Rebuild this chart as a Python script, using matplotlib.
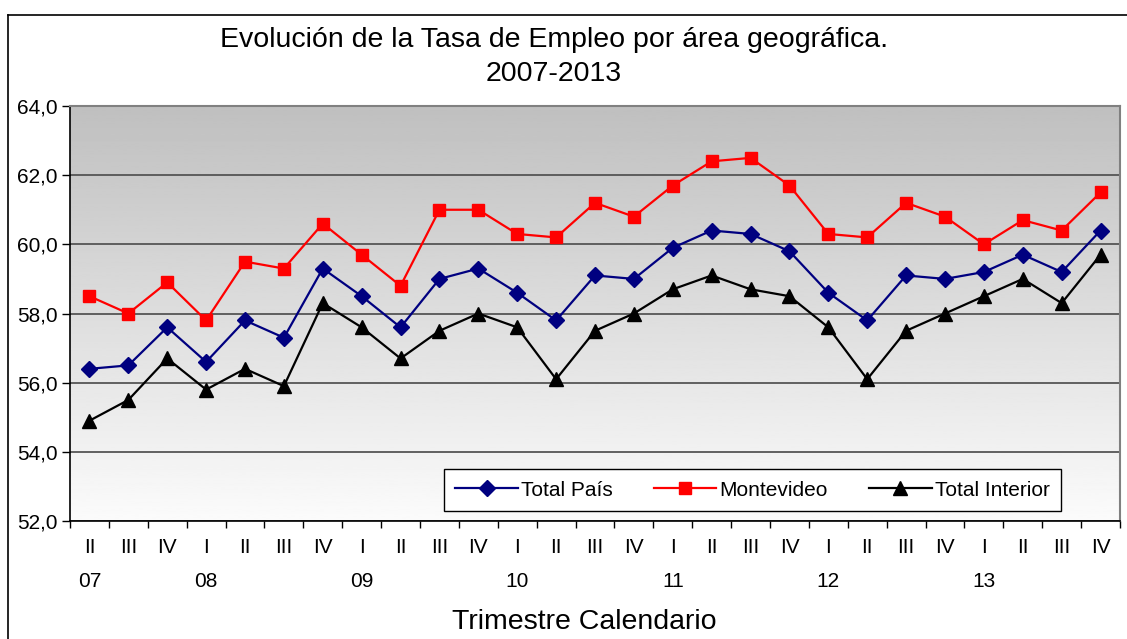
import numpy as np
import matplotlib
matplotlib.use("Agg")
import matplotlib.pyplot as plt
from matplotlib.lines import Line2D
from matplotlib.ticker import FixedLocator, NullFormatter, FuncFormatter

plt.rcParams['font.family'] = ['Liberation Sans', 'DejaVu Sans']

# quarters and years
quarters = ['II', 'III', 'IV',
            'I', 'II', 'III', 'IV',
            'I', 'II', 'III', 'IV',
            'I', 'II', 'III', 'IV',
            'I', 'II', 'III', 'IV',
            'I', 'II', 'III', 'IV',
            'I', 'II', 'III', 'IV']
years = ['07', '08', '09', '10', '11', '12', '13']
year_pos = [0, 3, 7, 11, 15, 19, 23]

total_pais = [56.4, 56.5, 57.6, 56.6, 57.8, 57.3, 59.3, 58.5, 57.6,
              59.0, 59.3, 58.6, 57.8, 59.1, 59.0, 59.9, 60.4, 60.3,
              59.8, 58.6, 57.8, 59.1, 59.0, 59.2, 59.7, 59.2, 60.4]
montevideo = [58.5, 58.0, 58.9, 57.8, 59.5, 59.3, 60.6, 59.7, 58.8,
              61.0, 61.0, 60.3, 60.2, 61.2, 60.8, 61.7, 62.4, 62.5,
              61.7, 60.3, 60.2, 61.2, 60.8, 60.0, 60.7, 60.4, 61.5]
total_interior = [54.9, 55.5, 56.7, 55.8, 56.4, 55.9, 58.3, 57.6, 56.7,
                  57.5, 58.0, 57.6, 56.1, 57.5, 58.0, 58.7, 59.1, 58.7,
                  58.5, 57.6, 56.1, 57.5, 58.0, 58.5, 59.0, 58.3, 59.7]

W, H = 1127, 639
fig = plt.figure(figsize=(W / 100, H / 100), dpi=100)
ax = fig.add_axes([70 / W, 1 - 521 / H, 1050 / W, 415 / H])

x = np.arange(len(quarters))
n = len(quarters)

# gradient background gray (top) -> white (bottom)
grad = np.linspace(0.75, 0.985, 256).reshape(-1, 1)
ax.imshow(grad, cmap='gray', vmin=0, vmax=1, aspect='auto', origin='upper',
          extent=[-0.5, n - 0.5, 52, 64], zorder=0)
ax.set_xlim(-0.5, n - 0.5)
ax.set_ylim(52, 64)

ax.set_yticks(np.arange(52, 65, 2))
ax.yaxis.set_major_formatter(FuncFormatter(lambda v, p: f'{v:.1f}'.replace('.', ',')))
ax.grid(axis='y', color='#555555', linewidth=1.3, zorder=1)

ax.plot(x, total_pais, color='#000080', marker='D', markersize=8, linewidth=1.6,
        label='Total País', zorder=3)
ax.plot(x, montevideo, color='#ff0000', marker='s', markersize=9, linewidth=1.6,
        label='Montevideo', zorder=3)
ax.plot(x, total_interior, color='black', marker='^', markersize=10, linewidth=1.6,
        label='Total Interior', zorder=3)

# x ticks: marks at boundaries, labels at centers
ax.xaxis.set_major_locator(FixedLocator(np.arange(-0.5, n, 1.0)))
ax.xaxis.set_major_formatter(NullFormatter())
ax.xaxis.set_minor_locator(FixedLocator(x))
ax.set_xticklabels(quarters, minor=True)
ax.tick_params(axis='x', which='minor', length=0, pad=12, labelsize=15)
ax.tick_params(axis='x', which='major', length=5, direction='out', width=1)
ax.tick_params(axis='y', length=6, direction='out', width=1, labelsize=15, pad=3)

for p, yr in zip(year_pos, years):
    ax.text(p, -0.145, yr, transform=ax.get_xaxis_transform(),
            ha='center', va='center', fontsize=15)

for s in ['left', 'bottom']:
    ax.spines[s].set_color('black')
    ax.spines[s].set_linewidth(1.2)
for s in ['top', 'right']:
    ax.spines[s].set_color('#808080')
    ax.spines[s].set_linewidth(1.5)

leg = ax.legend(loc='lower left', bbox_to_anchor=((444 - 70) / 1050, (521 - 511) / 415,
                                                   (1061 - 444) / 1050, 41 / 415),
                mode='expand', ncol=3, fontsize=15, frameon=True, fancybox=False,
                borderaxespad=0, borderpad=0.55, handlelength=3.0,
                handletextpad=0.15, columnspacing=1.2)
leg.get_frame().set_edgecolor('black')
leg.get_frame().set_linewidth(1)
leg.get_frame().set_facecolor('white')
leg.get_frame().set_alpha(1)

fig.text(554 / W, 1 - 40 / H, 'Evolución de la Tasa de Empleo por área geográfica.',
         ha='center', va='center', fontsize=20.5)
fig.text(554 / W, 1 - 74 / H, '2007-2013', ha='center', va='center', fontsize=20.5)
fig.text(584 / W, 1 - 622 / H, 'Trimestre Calendario', ha='center', va='center', fontsize=20.5)

# outer chart border (left and top)
fig.add_artist(Line2D([8 / W, 8 / W], [0, 1 - 15 / H], transform=fig.transFigure,
                      color='black', linewidth=1.2))
fig.add_artist(Line2D([8 / W, 1], [1 - 15 / H, 1 - 15 / H], transform=fig.transFigure,
                      color='black', linewidth=1.2))

fig.savefig('out.png', dpi=100)
